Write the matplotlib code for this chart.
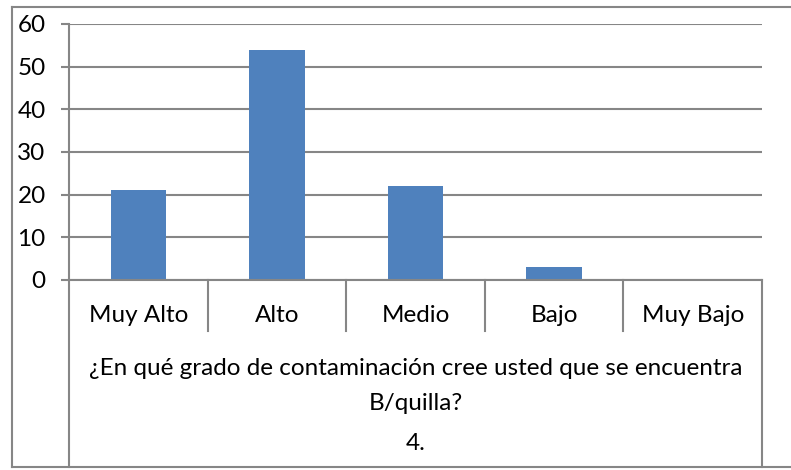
import matplotlib
matplotlib.use("Agg")
import matplotlib.pyplot as plt
from matplotlib.lines import Line2D

# Survey answers, question 4
categories = ["Muy Alto", "Alto", "Medio", "Bajo", "Muy Bajo"]
counts = [21, 54, 22, 3, 0]
question = "¿En qué grado de contaminación cree usted que se encuentra\nB/quilla?"
question_number = "4."
y_ticks = [0, 10, 20, 30, 40, 50, 60]

BAR_COLOR = "#4F81BD"
LINE_COLOR = "#868686"
FONT = "Lato"
FS = 17.5

W, H = 791, 470
fig = plt.figure(figsize=(W / 100, H / 100), dpi=100)

# plot area in pixel coords (left, top, right, bottom)
px_l, px_t, px_r, px_b = 69, 24, 762, 280
ax = fig.add_axes([px_l / W, 1 - px_b / H, (px_r - px_l) / W, (px_b - px_t) / H])

x = range(len(categories))
ax.bar(x, counts, width=0.4, color=BAR_COLOR, zorder=3)

ax.set_xlim(-0.5, len(categories) - 0.5)
ax.set_ylim(y_ticks[0], y_ticks[-1])
ax.set_yticks(y_ticks)
ax.set_yticklabels([str(v) for v in y_ticks], fontsize=FS, fontfamily=FONT)
ax.tick_params(axis="y", length=5.8, width=1.5, color=LINE_COLOR, pad=11)
ax.set_xticks([])
ax.grid(axis="y", color=LINE_COLOR, linewidth=1.5, zorder=0)

for side in ["top", "right"]:
    ax.spines[side].set_visible(False)
ax.spines["left"].set_color(LINE_COLOR)
ax.spines["left"].set_linewidth(1.5)
ax.spines["bottom"].set_color(LINE_COLOR)
ax.spines["bottom"].set_linewidth(1.5)
ax.spines["bottom"].set_zorder(4)

# multi-level category axis below the plot
ax_h = px_b - px_t
def frac(py):
    return -(py - px_b) / ax_h

tr = ax.get_xaxis_transform()
y_div = frac(331)
y_bottom = frac(467)
for i in range(1, len(categories)):
    ax.plot([i - 0.5, i - 0.5], [0, y_div], transform=tr, color=LINE_COLOR,
            linewidth=1.5, clip_on=False)
for xe in [-0.5, len(categories) - 0.5]:
    ax.plot([xe, xe], [0, y_bottom], transform=tr, color=LINE_COLOR,
            linewidth=1.5, clip_on=False)

for i, label in enumerate(categories):
    ax.text(i, frac(315), label, transform=tr, ha="center", va="center",
            fontsize=FS, fontfamily=FONT)

mid = (len(categories) - 1) / 2
ax.text(mid, frac(386), question, transform=tr, ha="center", va="center",
        fontsize=FS, fontfamily=FONT, linespacing=1.8)
ax.text(mid, frac(443), question_number, transform=tr, ha="center", va="center",
        fontsize=FS, fontfamily=FONT)

# outer chart border (right edge runs off the image)
for xs, ys in [([12, 12], [7, 467]), ([12, W], [7, 7]), ([12, W], [467, 467])]:
    fig.add_artist(Line2D([v / W for v in xs], [1 - v / H for v in ys],
                          transform=fig.transFigure, color=LINE_COLOR, linewidth=1.5))

fig.savefig("out.png", dpi=100)
